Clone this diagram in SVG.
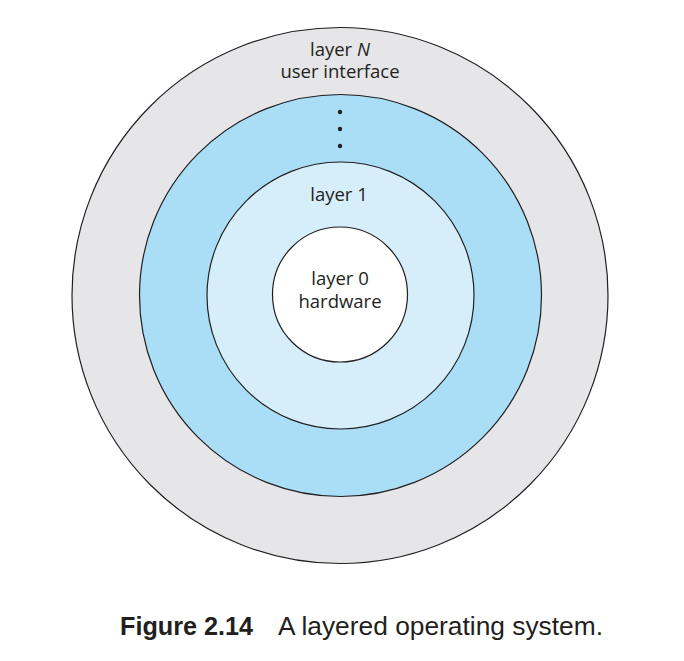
<svg xmlns="http://www.w3.org/2000/svg" width="684" height="661" viewBox="0 0 684 661">
<style>
.ring{stroke:#231f20;stroke-width:1.2}
.lbl{font-family:"Open Sans","Noto Sans",sans-serif;font-size:18.5px;fill:#231f20;text-anchor:middle}
.cap{font-family:"Liberation Sans",Arial,sans-serif;font-size:25px;fill:#231f20}
</style>
<rect width="684" height="661" fill="#ffffff"/>
<g id="layerN"><circle class="ring" cx="340" cy="295.5" r="268" fill="#e6e6e8"/></g>
<g id="layerMid"><circle class="ring" cx="340.5" cy="295.5" r="201" fill="#a9def6"/></g>
<g id="layer1"><circle class="ring" cx="340.5" cy="295.5" r="133.5" fill="#d5eefa"/></g>
<g id="layer0"><circle class="ring" cx="340" cy="294.5" r="67.5" fill="#ffffff"/></g>
<g id="labels">
<text class="lbl" x="340" y="56">layer <tspan font-style="italic">N</tspan></text>
<text class="lbl" x="340" y="78">user interface</text>
<circle cx="340" cy="112" r="2.2" fill="#231f20"/>
<circle cx="340" cy="129" r="2.2" fill="#231f20"/>
<circle cx="340" cy="146" r="2.2" fill="#231f20"/>
<text class="lbl" x="339" y="201">layer 1</text>
<text class="lbl" x="340" y="285">layer 0</text>
<text class="lbl" x="340" y="308">hardware</text>
</g>
<g id="connectors"></g>
<text class="cap" x="120" y="635" font-weight="bold" textLength="133" lengthAdjust="spacingAndGlyphs">Figure 2.14</text>
<text class="cap" x="278" y="635" textLength="325" lengthAdjust="spacingAndGlyphs">A layered operating system.</text>
</svg>
